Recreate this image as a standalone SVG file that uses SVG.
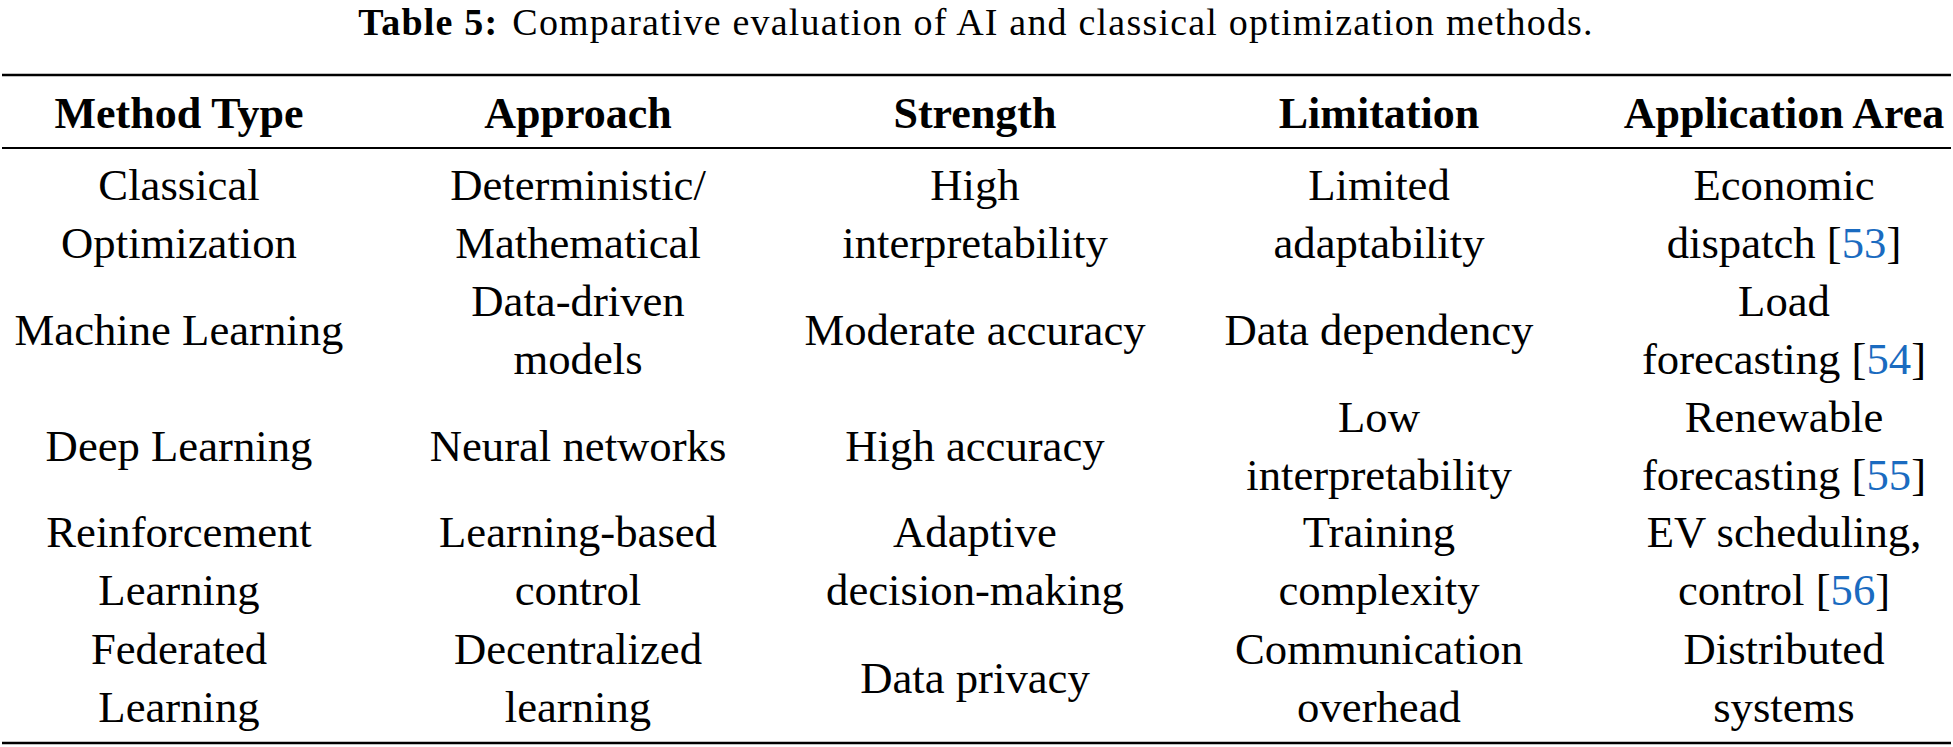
<svg xmlns="http://www.w3.org/2000/svg" width="1953" height="747" viewBox="0 0 1953 747">
<style>
text{font-family:"Liberation Serif","Times New Roman",serif;fill:#000;text-anchor:middle}
.b{font-size:44.7px}
.h{font-size:44px;font-weight:bold}
.t{font-size:38px;letter-spacing:1.2px}
.c{fill:#1a6bc0}
.rule{stroke:#000}
</style>
<rect width="1953" height="747" fill="#fff"/>
<g id="title">
<text class="t" x="976" y="35"><tspan font-weight="bold">Table 5:</tspan><tspan dx="14">Comparative evaluation of AI and classical optimization methods.</tspan></text>
</g>
<g id="rules">
<line class="rule" x1="2" y1="75" x2="1951" y2="75" stroke-width="2.6"/>
<line class="rule" x1="2" y1="148" x2="1951" y2="148" stroke-width="1.8"/>
<line class="rule" x1="2" y1="743" x2="1951" y2="743" stroke-width="2.6"/>
</g>
<g id="header">
<text class="h" x="179" y="128">Method Type</text>
<text class="h" x="578" y="128">Approach</text>
<text class="h" x="975" y="128">Strength</text>
<text class="h" x="1379" y="128">Limitation</text>
<text class="h" x="1784" y="128">Application Area</text>
</g>
<g id="row1">
<text class="b" x="179" y="200">Classical</text>
<text class="b" x="179" y="258">Optimization</text>
<text class="b" x="578" y="200">Deterministic/</text>
<text class="b" x="578" y="258">Mathematical</text>
<text class="b" x="975" y="200">High</text>
<text class="b" x="975" y="258">interpretability</text>
<text class="b" x="1379" y="200">Limited</text>
<text class="b" x="1379" y="258">adaptability</text>
<text class="b" x="1784" y="200">Economic</text>
<text class="b" x="1784" y="258">dispatch [<tspan class="c">53</tspan>]</text>
</g>
<g id="row2">
<text class="b" x="179" y="345">Machine Learning</text>
<text class="b" x="578" y="316">Data-driven</text>
<text class="b" x="578" y="374">models</text>
<text class="b" x="975" y="345">Moderate accuracy</text>
<text class="b" x="1379" y="345">Data dependency</text>
<text class="b" x="1784" y="316">Load</text>
<text class="b" x="1784" y="374">forecasting [<tspan class="c">54</tspan>]</text>
</g>
<g id="row3">
<text class="b" x="179" y="461">Deep Learning</text>
<text class="b" x="578" y="461">Neural networks</text>
<text class="b" x="975" y="461">High accuracy</text>
<text class="b" x="1379" y="432">Low</text>
<text class="b" x="1379" y="490">interpretability</text>
<text class="b" x="1784" y="432">Renewable</text>
<text class="b" x="1784" y="490">forecasting [<tspan class="c">55</tspan>]</text>
</g>
<g id="row4">
<text class="b" x="179" y="547">Reinforcement</text>
<text class="b" x="179" y="605">Learning</text>
<text class="b" x="578" y="547">Learning-based</text>
<text class="b" x="578" y="605">control</text>
<text class="b" x="975" y="547">Adaptive</text>
<text class="b" x="975" y="605">decision-making</text>
<text class="b" x="1379" y="547">Training</text>
<text class="b" x="1379" y="605">complexity</text>
<text class="b" x="1784" y="547">EV scheduling,</text>
<text class="b" x="1784" y="605">control [<tspan class="c">56</tspan>]</text>
</g>
<g id="row5">
<text class="b" x="179" y="664">Federated</text>
<text class="b" x="179" y="722">Learning</text>
<text class="b" x="578" y="664">Decentralized</text>
<text class="b" x="578" y="722">learning</text>
<text class="b" x="975" y="693">Data privacy</text>
<text class="b" x="1379" y="664">Communication</text>
<text class="b" x="1379" y="722">overhead</text>
<text class="b" x="1784" y="664">Distributed</text>
<text class="b" x="1784" y="722">systems</text>
</g>
</svg>
